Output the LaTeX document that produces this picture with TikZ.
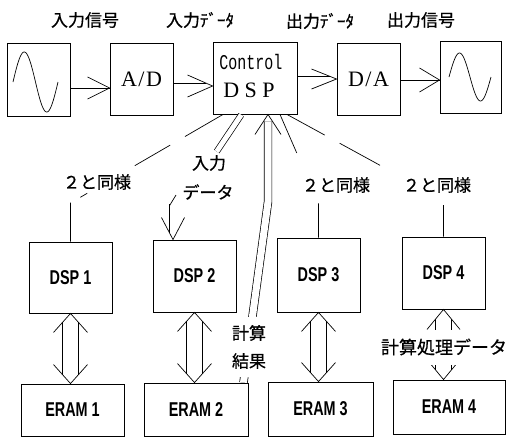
\documentclass[tikz,border=0pt]{standalone}
\usepackage{fontspec}
\usepackage{graphicx}
\newfontfamily\jp{Noto Sans CJK JP}[FakeBold=0.6]
\newfontfamily\monoL{Liberation Mono}
\newfontfamily\serifL{Liberation Serif}
\newfontfamily\sansL{Liberation Sans}
\tikzset{
 box/.style={draw, line width=0.9pt, inner sep=0pt},
 ln/.style={line width=0.7pt},
 dbl/.style={line width=0.7pt, double=white, double distance=5pt},
 dblm/.style={line width=0.7pt, double=white, double distance=7pt},
 dblw/.style={line width=0.7pt, double=white, double distance=15pt},
 jlab/.style={font=\jp\fontsize{17}{17}\selectfont, inner sep=1pt},
 boxtxt/.style={font=\sansL\fontsize{20}{20}\selectfont},
 bigserif/.style={font=\serifL\fontsize{22}{22}\selectfont},
 chevlen/.initial=22pt, chevhw/.initial=11pt,
 chev/.pic={\draw[line width=0.7pt] (-\pgfkeysvalueof{/tikz/chevlen},\pgfkeysvalueof{/tikz/chevhw}) -- (0pt,0pt) -- (-\pgfkeysvalueof{/tikz/chevlen},-\pgfkeysvalueof{/tikz/chevhw});}
}
\begin{document}
\begin{tikzpicture}[x=1pt,y=-1pt]
\path[use as bounding box, fill=white] (0,0) rectangle (511,437);

% top row
\node[box, minimum width=63pt, minimum height=73pt] (sigin) at (38.5,79.5) {};
\node[box, minimum width=63pt, minimum height=72pt, bigserif] (ad) at (141.5,79) {A\kern1.5pt/\kern1.5pt D};
\node[box, minimum width=84pt, minimum height=72pt] (ctrl) at (255,78) {};
\node[font=\monoL\fontsize{15}{15}\selectfont, inner sep=0pt] (ctrlA) at (251,62) {\scalebox{1}[1.4]{Control}};
\node[bigserif, inner sep=0pt] (ctrlB) at (249,90) {D S P};
\node[box, minimum width=63pt, minimum height=72pt, bigserif] (da) at (368.5,79) {D\kern1.5pt/\kern1.5pt A};
\node[box, minimum width=61pt, minimum height=72pt] (sigout) at (470.5,77) {};

\draw[ln, shift={(sigin.center)}] plot[domain=0:360, samples=73, smooth] ({-25.5+\x/8}, {2.5-30*sin(\x)});
\draw[ln, shift={(sigout.center)}] plot[domain=0:360, samples=73, smooth] ({-21.5+\x*42/360}, {-24*sin(\x)});

\node[jlab] (l1) at (85,20) {入力信号};
\node[jlab] (l2) at (200,20) {入力ﾃﾞｰﾀ};
\node[jlab] (l3) at (320,21) {出力ﾃﾞｰﾀ};
\node[jlab] (l4) at (421,20) {出力信号};

% top connectors
\coordinate (t1) at ([yshift=-8.5pt]sigin.east -| ad.west);
\draw[ln] ([yshift=-8.5pt]sigin.east) -- (t1);
\pic[chevlen=22pt, chevhw=11pt] at (t1) {chev};

\coordinate (t2) at ([yshift=-7pt]ad.east -| ctrl.west);
\draw[dbl, shorten >=6.5pt, shorten <=0.5pt] ([yshift=-7pt]ad.east) -- (t2);
\pic[chevlen=25pt, chevhw=11pt] at (t2) {chev};

\coordinate (t3) at ([yshift=-1pt]ctrl.east -| da.west);
\draw[dbl, shorten >=6.5pt, shorten <=0.5pt] ([yshift=-1pt]ctrl.east) -- (t3);
\pic[chevlen=25pt, chevhw=10pt] at (t3) {chev};

\coordinate (t4) at ([yshift=-1pt]da.east -| sigout.west);
\draw[ln] ([yshift=-1pt]da.east) -- (t4);
\pic[chevlen=20pt, chevhw=12pt] at (t4) {chev};

% lower boxes
\node[box, minimum width=83pt, minimum height=71pt, boxtxt] (dsp1) at (70.5,277.5) {\scalebox{0.72}[1]{\bfseries DSP 1}};
\node[box, minimum width=83pt, minimum height=72pt, boxtxt] (dsp2) at (194.5,276) {\scalebox{0.72}[1]{\bfseries DSP 2}};
\node[box, minimum width=83pt, minimum height=74pt, boxtxt] (dsp3) at (318.5,275) {\scalebox{0.72}[1]{\bfseries DSP 3}};
\node[box, minimum width=83pt, minimum height=72pt, boxtxt] (dsp4) at (443.5,273) {\scalebox{0.72}[1]{\bfseries DSP 4}};
\node[box, minimum width=103pt, minimum height=52pt, boxtxt] (eram1) at (72.5,410) {\scalebox{0.72}[1]{\bfseries ERAM 1}};
\node[box, minimum width=104pt, minimum height=53pt, boxtxt] (eram2) at (196,409.5) {\scalebox{0.72}[1]{\bfseries ERAM 2}};
\node[box, minimum width=105pt, minimum height=54pt, boxtxt] (eram3) at (320.5,409) {\scalebox{0.72}[1]{\bfseries ERAM 3}};
\node[box, minimum width=112pt, minimum height=54pt, boxtxt] (eram4) at (449,407) {\scalebox{0.72}[1]{\bfseries ERAM 4}};

% labels
\node[jlab] (s1) at (97,182) {２と同様};
\node[jlab] (s3) at (336,185) {２と同様};
\node[jlab] (s4) at (437,185) {２と同様};
\node[jlab] (inA) at (209,163) {入力};
\node[jlab] (inB) at (208,192) {データ};

% fan from control DSP
\coordinate (c1) at (dsp1.north |- 0,203);
\draw[ln, dash pattern=on 44pt off 17pt on 41pt off 55pt on 8pt off 11pt on 60pt] ([xshift=-32pt]ctrl.south) -- (c1) -- (dsp1.north);
\coordinate (c4) at (dsp3.north |- 0,203);
\draw[ln, dash pattern=on 42pt off 55pt on 100pt] ([xshift=25pt]ctrl.south) -- (c4) -- (dsp3.north);
\coordinate (c5) at (dsp4.north |- 0,200);
\draw[ln, dash pattern=on 43pt off 17pt on 46pt off 77.6pt on 60pt] ([xshift=32pt]ctrl.south) -- (c5) -- (dsp4.north);

% input data to DSP2
\draw[dbl, shorten <=0.5pt, shorten >=3pt] ([xshift=-13.5pt]ctrl.south) -- (inA);
\coordinate (c2) at (173,204);
\coordinate (t5) at ([xshift=-21.5pt]dsp2.north);
\draw[dblm, shorten >=7pt] (c2) -- (t5);
\draw[ln] (169.3,206) -- (176,195);
\pic[rotate=-90, chevlen=22pt, chevhw=11.5pt] at (t5) {chev};

% calculation result back to control
\coordinate (c3) at (268,202);
\coordinate (t6) at ([xshift=13pt]ctrl.south);
\draw[dblm, shorten >=7pt] ([xshift=47.5pt]eram2.north) -- (c3) -- (t6);
\pic[rotate=90, chevlen=20pt, chevhw=13pt] at (t6) {chev};
\node[font=\jp\fontsize{17}{28}\selectfont, align=center, fill=white, inner sep=0pt, minimum height=60pt, minimum width=40pt] (calc) at (249,347) {計算\\結果};

% DSP <-> ERAM
\foreach \i in {1,2,3}{
 \coordinate (b\i) at (dsp\i.south |- eram\i.north);
 \draw[dblw, shorten <=9pt, shorten >=9pt] (dsp\i.south) -- (b\i);
 \pic[rotate=90, chevlen=19pt, chevhw=17pt] at (dsp\i.south) {chev};
 \pic[rotate=-90, chevlen=19pt, chevhw=17pt] at (b\i) {chev};
}
\coordinate (b4) at (dsp4.south |- eram4.north);
\draw[dblw, shorten <=10pt, shorten >=10pt] (dsp4.south) -- (b4);
\pic[rotate=90, chevlen=20pt, chevhw=16.5pt] at (dsp4.south) {chev};
\pic[rotate=-90, chevlen=20pt, chevhw=16.5pt] at (b4) {chev};
\node[font=\jp\fontsize{18}{18}\selectfont, fill=white, inner xsep=1pt, inner ysep=0pt, minimum height=35pt] (proc) at (444,347) {計算処理データ};
\end{tikzpicture}
\end{document}
